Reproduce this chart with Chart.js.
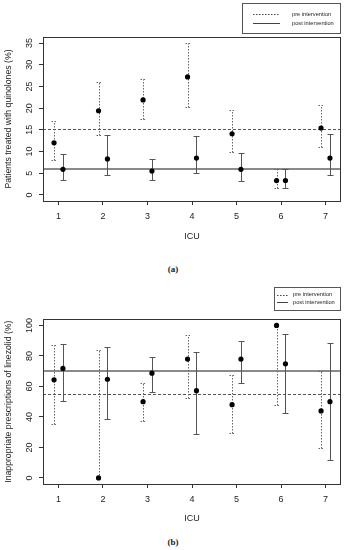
<!DOCTYPE html>
<html>
<head>
<meta charset="utf-8">
<script src="https://cdn.jsdelivr.net/npm/chart.js@4.4.1/dist/chart.umd.min.js"></script>
<style>
  body { margin: 0; background: #fff; width: 346px; height: 550px; position: relative; overflow: hidden; }
  canvas { position: absolute; left: 0; }
  #chartA { top: 0; }
  #chartB { top: 280px; }
  .cap { position: absolute; width: 346px; text-align: center; font: bold 9px "Liberation Serif", "DejaVu Serif", serif; color: #222; }
</style>
</head>
<body>
<canvas id="chartA" width="346" height="255"></canvas>
<canvas id="chartB" width="346" height="250"></canvas>
<div class="cap" style="top:264px">(a)</div>
<div class="cap" style="top:537px">(b)</div>
<script>
'use strict';

const icu = [1, 2, 3, 4, 5, 6, 7];
const yTicksA = [0, 5, 10, 15, 20, 25, 30, 35];
const yTicksB = [0, 20, 40, 60, 80, 100];
const legendLabels = ['pre intervention', 'post intervention'];

// (a) quinolones
const preA = [12.0, 19.4, 21.9, 27.2, 14.1, 3.3, 15.4];
const preALo = [8.0, 13.9, 17.5, 20.3, 9.8, 1.5, 11.0];
const preAHi = [17.0, 26.0, 26.8, 35.0, 19.5, 6.0, 20.8];
const postA = [5.9, 8.3, 5.5, 8.5, 5.9, 3.3, 8.5];
const postALo = [3.4, 4.5, 3.5, 5.0, 3.3, 1.7, 4.5];
const postAHi = [9.4, 13.8, 8.3, 13.5, 9.7, 5.9, 14.0];
const meanA = [15.3, 6.0];

// (b) linezolid
const preB = [64.3, 0, 50.0, 77.9, 48.0, 100, 43.9];
const preBLo = [35.1, 0, 37.5, 52.6, 29.4, 47.8, 19.7];
const preBHi = [87.0, 84.0, 62.5, 93.7, 67.4, 100, 70.2];
const postB = [71.8, 64.7, 68.7, 57.2, 77.9, 74.8, 50.0];
const postBLo = [50.7, 38.4, 56.2, 28.9, 62.3, 42.8, 11.6];
const postBHi = [87.9, 85.8, 79.2, 82.7, 89.5, 94.5, 88.4];
const meanB = [54.8, 70.0];

const font = '"Liberation Sans", Arial, sans-serif';
const ink = '#333';

const rPlot = {
    id: 'rPlot',
    beforeDatasetsDraw(chart, args, o) {
        const {ctx, chartArea: a, scales: {x, y}} = chart;
        ctx.save();
        // means
        ctx.lineWidth = 1;
        ctx.strokeStyle = '#555';
        ctx.setLineDash([3, 2]);
        let py = Math.round(y.getPixelForValue(o.means[0])) + 0.5;
        ctx.beginPath(); ctx.moveTo(a.left, py); ctx.lineTo(a.right, py); ctx.stroke();
        ctx.setLineDash([]);
        ctx.lineWidth = 2;
        ctx.strokeStyle = '#8a8a8a';
        py = Math.round(y.getPixelForValue(o.means[1]));
        ctx.beginPath(); ctx.moveTo(a.left, py); ctx.lineTo(a.right, py); ctx.stroke();
        // error bars
        ctx.lineWidth = 1;
        o.bars.forEach((b, d) => {
            ctx.strokeStyle = d === 0 ? '#666' : '#555';
            ctx.setLineDash(d === 0 ? [1.5, 1.5] : []);
            icu.forEach((c, i) => {
                const px = Math.round(x.getPixelForValue(c + b.off)) + 0.5;
                const lo = Math.round(y.getPixelForValue(b.lo[i])) + 0.5;
                const hi = Math.round(y.getPixelForValue(b.hi[i])) + 0.5;
                ctx.beginPath();
                ctx.moveTo(px, lo); ctx.lineTo(px, hi);
                ctx.moveTo(px - 3, lo); ctx.lineTo(px + 3, lo);
                ctx.moveTo(px - 3, hi); ctx.lineTo(px + 3, hi);
                ctx.stroke();
            });
        });
        ctx.restore();
    },
    afterDraw(chart, args, o) {
        const {ctx, chartArea: a, scales: {y}} = chart;
        ctx.save();
        ctx.strokeStyle = ink;
        ctx.lineWidth = 1;
        ctx.strokeRect(Math.round(a.left) + 0.5, Math.round(a.top) + 0.5,
            Math.round(a.right - a.left) - 1, Math.round(a.bottom - a.top));
        // rotated y tick labels
        ctx.fillStyle = '#222';
        ctx.font = '9px ' + font;
        ctx.textAlign = 'center';
        ctx.textBaseline = 'middle';
        y.ticks.forEach(t => {
            ctx.save();
            ctx.translate(30, y.getPixelForValue(t.value));
            ctx.rotate(-Math.PI / 2);
            ctx.fillText(String(t.value), 0, 0);
            ctx.restore();
        });
        // legend box
        const L = o.legend;
        ctx.strokeStyle = '#555';
        ctx.strokeRect(L.x0 + 0.5, L.y0 + 0.5, L.x1 - L.x0, L.y1 - L.y0);
        ctx.font = '5.7px ' + font;
        ctx.textAlign = 'left';
        legendLabels.forEach((t, i) => {
            const ly = Math.round(L.rows[i]) + 0.5;
            ctx.setLineDash(i === 0 ? [1.5, 1.5] : []);
            ctx.strokeStyle = '#444';
            ctx.beginPath(); ctx.moveTo(L.s0, ly); ctx.lineTo(L.s1, ly); ctx.stroke();
            ctx.fillText(t, L.tx, L.rows[i]);
        });
        ctx.restore();
    }
};

function makePanel(id, pre, post, bars, means, yTicks, yMin, yMax, yTitle, top, xH, titlePad, legend) {
    return new Chart(document.getElementById(id), {
        type: 'scatter',
        data: {
            datasets: [
                {label: 'pre', data: icu.map((c, i) => ({x: c - 0.1, y: pre[i]}))},
                {label: 'post', data: icu.map((c, i) => ({x: c + 0.1, y: post[i]}))}
            ].map(d => Object.assign(d, {
                backgroundColor: '#000', borderColor: '#000', pointRadius: 2.6, borderWidth: 0
            }))
        },
        options: {
            responsive: false,
            animation: false,
            layout: {padding: {top: top, left: 0, right: 5, bottom: 0}},
            plugins: {
                legend: {display: false},
                tooltip: {enabled: false},
                rPlot: {bars: bars, means: means, legend: legend}
            },
            scales: {
                x: {
                    type: 'linear', min: 0.652, max: 7.348,
                    afterBuildTicks: s => { s.ticks = icu.map(v => ({value: v})); },
                    afterFit: s => { s.height = xH; },
                    border: {display: false},
                    grid: {display: true, drawOnChartArea: false, drawTicks: true, tickLength: 4, color: ink},
                    ticks: {font: {family: font, size: 9}, color: '#222', padding: 6, maxRotation: 0},
                    title: {display: true, text: 'ICU', font: {family: font, size: 9}, color: '#222',
                        padding: {top: 0, bottom: titlePad}}
                },
                y: {
                    type: 'linear', min: yMin, max: yMax,
                    afterBuildTicks: s => { s.ticks = yTicks.map(v => ({value: v})); },
                    afterFit: s => { s.width = 43; },
                    border: {display: false},
                    grid: {display: true, drawOnChartArea: false, drawTicks: true, tickLength: 4, color: ink},
                    ticks: {display: false},
                    title: {display: true, text: yTitle, font: {family: font, size: 8.7}, color: '#222',
                        padding: {top: 3, bottom: 0}}
                }
            }
        },
        plugins: [rPlot]
    });
}

makePanel('chartA', preA, postA,
    [{off: -0.1, lo: preALo, hi: preAHi}, {off: 0.1, lo: postALo, hi: postAHi}],
    meanA, yTicksA, -1.4, 36.4, 'Patients treated with quinolones (%)', 37, 54, 12.8,
    {x0: 242, x1: 340, y0: 3, y1: 33, rows: [14, 23.3], s0: 253, s1: 280, tx: 292});

makePanel('chartB', preB, postB,
    [{off: -0.1, lo: preBLo, hi: preBHi}, {off: 0.1, lo: postBLo, hi: postBHi}],
    meanB, yTicksB, -4, 104, 'Inappropriate prescriptions of linezolid (%)', 39.3, 46, 5.8,
    {x0: 274, x1: 340, y0: 7, y1: 30, rows: [14.7, 22.3], s0: 277, s1: 288, tx: 293});
</script>
</body>
</html>
